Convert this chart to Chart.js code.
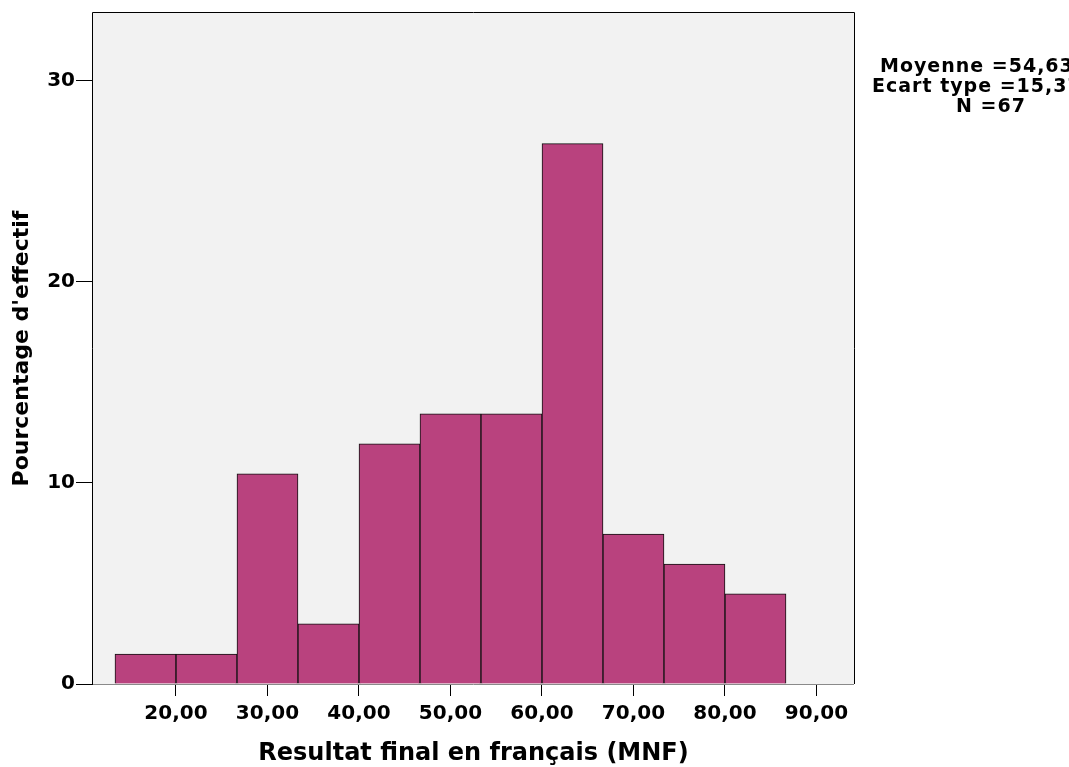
<!DOCTYPE html>
<html>
<head>
<meta charset="utf-8">
<script src="https://cdn.jsdelivr.net/npm/chart.js@4/dist/chart.umd.min.js"></script>
<style>
  body { margin: 0; background: #fff; }
  canvas { display: block; }
</style>
</head>
<body>
<canvas id="my_Chart" width="1069" height="767"></canvas>
<script>
// bin edges of the histogram (Resultat final en français)
var binEdges = [13.33, 20.00, 26.67, 33.33, 40.00, 46.67, 53.33, 60.00, 66.67, 73.33, 80.00, 86.67];
// percentage of students in each bin (N = 67)
var percents = [1.49, 1.49, 10.45, 2.99, 11.94, 13.43, 13.43, 26.87, 7.46, 5.97, 4.48];
var xTicks = [20, 30, 40, 50, 60, 70, 80, 90];
var yTicks = [0, 10, 20, 30];
var statsLines = ["Moyenne =54,63", "Ecart type =15,37", "N =67"];

var FONT = "'DejaVu Sans', 'Liberation Sans', sans-serif";

var points = [];
for (var i = 0; i < percents.length; i++) {
  points.push({ x: (binEdges[i] + binEdges[i + 1]) / 2, y: percents[i] });
}

// plot background + frame
var framePlugin = {
  id: 'frame',
  beforeDatasetsDraw: function (chart) {
    var a = chart.chartArea, ctx = chart.ctx;
    ctx.save();
    ctx.fillStyle = '#f2f2f2';
    ctx.fillRect(a.left, a.top, a.right - a.left, a.bottom - a.top);
    ctx.restore();
  },
  afterDatasetsDraw: function (chart) {
    var a = chart.chartArea, ctx = chart.ctx;
    ctx.save();
    ctx.lineWidth = 1;
    ctx.strokeStyle = '#8a8a8a';
    ctx.beginPath();
    ctx.moveTo(a.left, a.bottom + 0.5);
    ctx.lineTo(a.right, a.bottom + 0.5);
    ctx.stroke();
    ctx.strokeStyle = '#000';
    ctx.beginPath();
    ctx.moveTo(a.left - 0.5, a.bottom);
    ctx.lineTo(a.left - 0.5, a.top - 0.5);
    ctx.lineTo(a.right + 0.5, a.top - 0.5);
    ctx.lineTo(a.right + 0.5, a.bottom);
    ctx.stroke();
    ctx.restore();
  }
};

// stats box on the right (SPSS style)
var statsPlugin = {
  id: 'stats',
  afterDraw: function (chart) {
    var ctx = chart.ctx;
    var xs = [880, 872, 956];
    var ys = [67, 87, 107];
    ctx.save();
    ctx.fillStyle = '#000';
    ctx.font = 'bold 19px ' + FONT;
    ctx.textBaseline = 'middle';
    ctx.textAlign = 'left';
    ctx.letterSpacing = '1px';
    for (var i = 0; i < statsLines.length; i++) {
      ctx.fillText(statsLines[i], xs[i], ys[i]);
    }
    ctx.restore();
  }
};

var myData = {
  type: 'bar',
  data: {
    datasets: [{
      data: points,
      backgroundColor: '#b9427e',
      borderColor: '#111',
      borderWidth: 1,
      barPercentage: 1,
      categoryPercentage: 1
    }]
  },
  options: {
    responsive: false,
    animation: false,
    devicePixelRatio: 1,
    layout: { padding: { left: 0, top: 10, right: 215, bottom: 0 } },
    plugins: { legend: { display: false }, tooltip: { enabled: false } },
    scales: {
      x: {
        type: 'linear',
        min: 10.93,
        max: 94.1,
        offset: false,
        afterFit: function (s) { s.height = 83; },
        afterBuildTicks: function (s) { s.ticks = xTicks.map(function (v) { return { value: v }; }); },
        border: { display: false },
        grid: { offset: false, drawOnChartArea: false, drawTicks: true, tickLength: 12, color: '#000', lineWidth: 1 },
        ticks: {
          color: '#000',
          padding: 6,
          maxRotation: 0,
          font: { family: FONT, size: 20, weight: 'bold' },
          callback: function (v) { return v.toFixed(2).replace('.', ','); }
        },
        title: {
          display: true,
          text: 'Resultat final en français (MNF)',
          color: '#000',
          font: { family: FONT, size: 24, weight: 'bold', lineHeight: 1 },
          padding: { top: 0, bottom: 1 }
        }
      },
      y: {
        min: 0,
        max: 33.37,
        afterFit: function (s) { s.width = 93; },
        afterBuildTicks: function (s) { s.ticks = yTicks.map(function (v) { return { value: v }; }); },
        border: { display: false },
        grid: { drawOnChartArea: false, drawTicks: true, tickLength: 17, color: '#000', lineWidth: 1 },
        ticks: {
          color: '#000',
          padding: 1,
          font: { family: FONT, size: 20, weight: 'bold' }
        },
        title: {
          display: true,
          text: "Pourcentage d'effectif",
          color: '#000',
          font: { family: FONT, size: 22, weight: 'bold', lineHeight: 1.2 },
          padding: { top: 9, bottom: 0 }
        }
      }
    }
  },
  plugins: [framePlugin, statsPlugin]
};

var mySv = new Chart(document.getElementById('my_Chart'), myData);
</script>
</body>
</html>
